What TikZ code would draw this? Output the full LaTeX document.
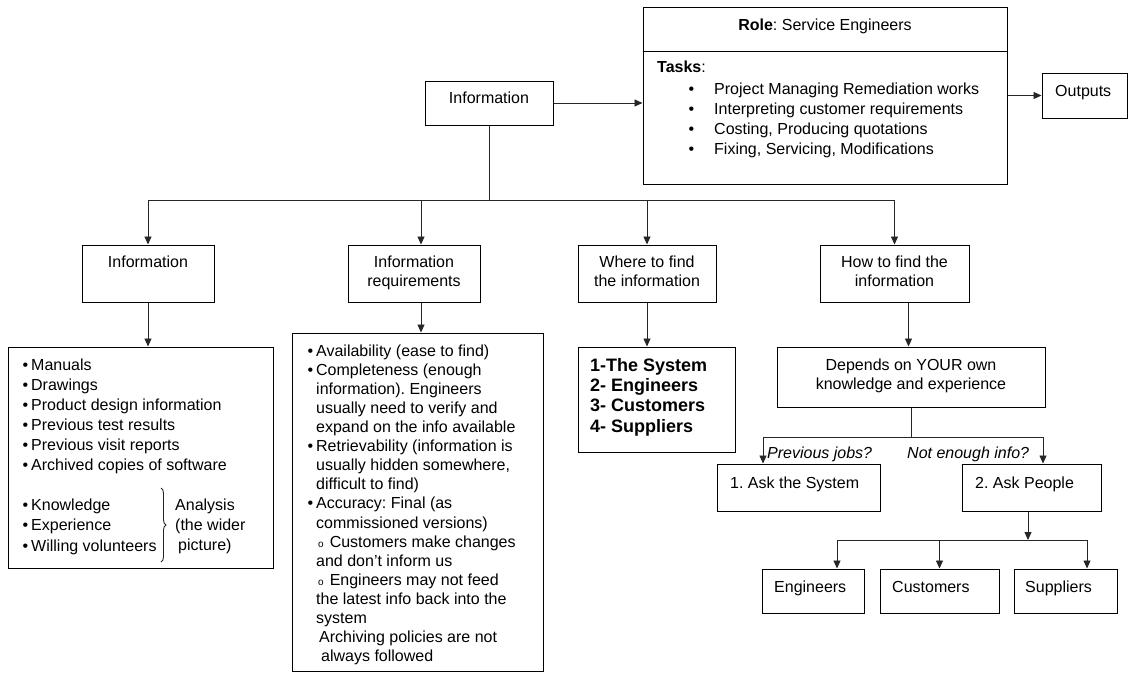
\documentclass[tikz,border=0pt]{standalone}
\usepackage{fontspec}
\setmainfont{Liberation Sans}
\usetikzlibrary{arrows.meta,decorations.pathreplacing}
% box from its corners: name, x1, y1, x2, y2 (y grows downwards)
\newcommand\rbox[5]{\node[box, minimum width={#4-#2}, minimum height={#5-#3}] (#1) at ({(#2+#4)/2},{(#3+#5)/2}) {};}
\newcommand\bul{\llap{\textbullet\hspace{3pt}}}
\begin{document}
\frenchspacing
\begin{tikzpicture}[x=1pt,y=-1pt,
  box/.style={draw=black, line width=1pt, inner sep=0pt},
  conn/.style={draw=black!85, line width=0.9pt},
  arr/.style={conn, -{Triangle[length=8pt,width=7pt]}},
  txt/.style={inner sep=0pt, anchor=base west},
  ctxt/.style={inner sep=0pt, anchor=north, align=center},
  list/.style={inner sep=0pt, anchor=north west, align=left},
  font=\fontsize{16}{19}\selectfont]
\fill[white] (0,0) rectangle (1129,673);

% ---------- top row ----------
\rbox{info0}{425}{81}{553}{125}
\node[txt, anchor=base] (info0t) at (489,103) {Information};

\rbox{role}{643}{7}{1007}{184}
\draw[line width=1pt] ([yshift=-45pt]role.north west) -- ([yshift=-45pt]role.north east);
\node[txt, anchor=base] (rolet) at (825,30) {\textbf{Role}: Service Engineers};
\node[txt] (taskst) at (657,72) {\textbf{Tasks}:};
\node[list, font=\fontsize{16}{20}\selectfont] (tasks) at (714,80)
  {\strut\llap{\textbullet\hspace{20pt}}Project Managing Remediation works\\
   \llap{\textbullet\hspace{20pt}}Interpreting customer requirements\\
   \llap{\textbullet\hspace{20pt}}Costing, Producing quotations\\
   \llap{\textbullet\hspace{20pt}}Fixing, Servicing, Modifications};

\rbox{outputs}{1042}{73}{1127}{118}
\node[txt] (outputst) at (1055,96) {Outputs};

\draw[arr] (info0.east) -- (info0.east -| role.west);
\draw[arr] (role.east) -- (outputs.west);

% ---------- second row ----------
\rbox{info1}{82}{245}{214}{302}
\rbox{reqh}{348}{245}{480}{302}
\rbox{where}{578}{245}{716}{302}
\rbox{how}{820}{245}{969}{302}
\node[ctxt] (info1t) at (148,253.7) {\strut Information};
\node[ctxt] (reqht) at (414,253.7) {\strut Information\\requirements};
\node[ctxt] (whereht) at (647,253.7) {\strut Where to find\\the information};
\node[ctxt] (howt) at (894.5,253.7) {\strut How to find the\\information};

\coordinate (hub) at (489,200);
\draw[conn] (info0.south) -- (hub);
\draw[arr] (hub) -| (info1.north);
\draw[arr] (hub) -| ([xshift=7pt]reqh.north);
\draw[arr] (hub) -| (where.north);
\draw[arr] (hub) -| (how.north);

% ---------- third row ----------
\rbox{src}{8}{347}{273}{568}
\node[list, font=\fontsize{16}{20.1}\selectfont] (srct) at (31,355.9)
  {\strut\bul Manuals\\
   \bul Drawings\\
   \bul Product design information\\
   \bul Previous test results\\
   \bul Previous visit reports\\
   \bul Archived copies of software\\
   \mbox{}\\
   \bul Knowledge\\
   \bul Experience\\
   \bul Willing volunteers};
\draw[conn, decorate, decoration={brace, amplitude=5pt}] (161,488) -- (161,562);
\node[list, font=\fontsize{16}{20.1}\selectfont] (analysis) at (175,495.9)
  {\strut Analysis\\(the wider\\\hspace{3pt}picture)};

\rbox{req}{292}{333}{543}{671}
\node[list, font=\fontsize{16}{19.1}\selectfont] (reqt) at (316,342.6)
  {\strut\bul Availability (ease to find)\\
   \bul Completeness (enough\\
   information). Engineers\\
   usually need to verify and\\
   expand on the info available\\
   \bul Retrievability (information is\\
   usually hidden somewhere,\\
   difficult to find)\\
   \bul Accuracy: Final (as\\
   commissioned versions)\\
   \hspace{2pt}{\fontsize{10}{10}\selectfont o}\hspace{6pt}Customers make changes\\
   and don’t inform us\\
   \hspace{2pt}{\fontsize{10}{10}\selectfont o}\hspace{6pt}Engineers may not feed\\
   the latest info back into the\\
   system\\
   \hspace{3pt}Archiving policies are not\\
   \hspace{5pt}always followed};

\rbox{wlist}{578}{347}{735}{452}
\node[list, font=\fontsize{18}{20.3}\selectfont\bfseries] (wlistt) at (590,356.8)
  {\strut 1-The System\\2- Engineers\\3- Customers\\4- Suppliers};

\rbox{dep}{777}{347}{1045}{407}
\node[ctxt] (dept) at (911,356.7) {\strut Depends on YOUR own\\knowledge and experience};

\draw[arr] (info1.south) -- (info1.south |- src.north);
\coordinate (rq) at ([xshift=7pt]reqh.south);
\draw[arr] (rq) -- (rq |- req.north);
\draw[arr] (where.south) -- (where.south |- wlist.north);
\coordinate (hw) at ([xshift=14pt]how.south);
\draw[arr] (hw) -- (hw |- dep.north);

% ---------- asking ----------
\rbox{asks}{717}{464}{880}{511}
\rbox{askp}{962}{464}{1101}{511}
\node[txt] (askst) at (730,488) {1. Ask the System};
\node[txt] (askpt) at (975,488) {2. Ask People};

\coordinate (split) at (911,437);
\draw[conn] (dep.south) -- (split);
\draw[arr] (split) -| ([xshift=-35.5pt]asks.north);
\draw[arr] (split) -| ([xshift=11.5pt]askp.north);
\node[txt, font=\fontsize{16}{19}\selectfont\itshape] (prevl) at (767,458) {Previous jobs?};
\node[txt, font=\fontsize{16}{19}\selectfont\itshape] (notl) at (907,458) {Not enough info?};

\rbox{eng}{762}{569}{864}{613}
\rbox{cus}{880}{569}{999}{613}
\rbox{sup}{1014}{569}{1117}{613}
\node[txt] (engt) at (774,592) {Engineers};
\node[txt] (cust) at (892,592) {Customers};
\node[txt] (supt) at (1025,592) {Suppliers};

\coordinate (bus) at (1028,540);
\draw[arr] (askp.south -| bus) -- (bus);
\draw[arr] (bus) -| ([xshift=24pt]eng.north);
\draw[arr] (bus) -| (cus.north);
\draw[arr] (bus) -| ([xshift=21.5pt]sup.north);
\end{tikzpicture}
\end{document}
